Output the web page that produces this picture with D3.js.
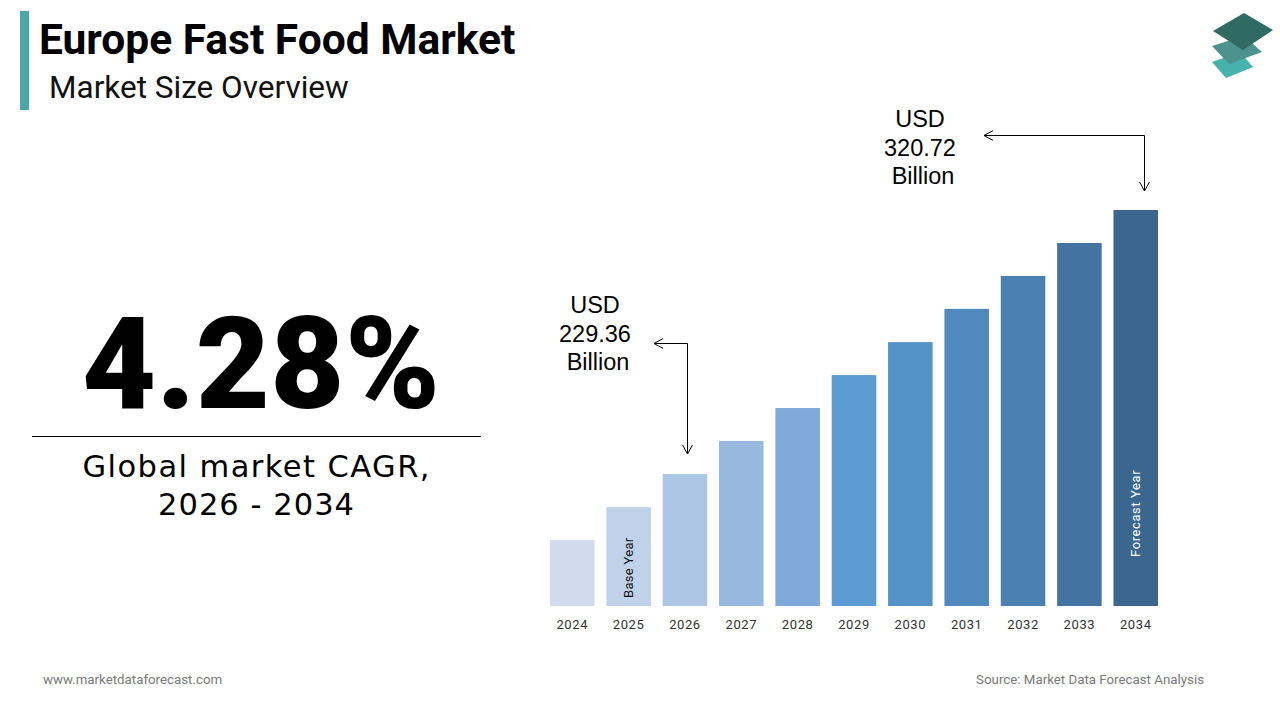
<!DOCTYPE html>
<html>
<head>
<meta charset="utf-8">
<script src="https://cdn.jsdelivr.net/npm/d3@7"></script>
<style>
  html, body { margin: 0; padding: 0; background: #fff; }
  svg { display: block; }
</style>
</head>
<body>
<svg id="chart" width="1280" height="720"></svg>
<script>
// ---- data ----
const years = ["2024","2025","2026","2027","2028","2029","2030","2031","2032","2033","2034"];
const values = [206.5, 217.9, 229.36, 240.8, 252.2, 263.6, 275.0, 286.5, 297.9, 309.3, 320.72];
const barLabels = ["", "Base Year", "", "", "", "", "", "", "", "", "Forecast Year"];
const cagrText = "4.28%";
const cagrCaption = ["Global market CAGR,", "2026 - 2034"];
const callouts = [
  { year: "2026", lines: ["USD", "229.36", "Billion"] },
  { year: "2034", lines: ["USD", "320.72", "Billion"] }
];

// ---- styles ----
const barColors = ["#d0dcee","#c0d2ea","#adc6e5","#97b9df","#7fa9d9","#5c9bd4","#5592c7","#4f89bd","#4a80b2","#4374a1","#3b678f"];

const svg = d3.select("#chart");

function fitWidth(sel, target) {
  const w = sel.node().getComputedTextLength();
  const n = sel.text().length;
  sel.attr("letter-spacing", (target - w) / Math.max(1, n - 1));
}

// Header
svg.append("rect").attr("x", 20).attr("y", 11).attr("width", 9).attr("height", 99).attr("fill", "#4aa9a8");
svg.append("text").attr("x", 39).attr("y", 54)
  .attr("font-family", "Roboto").attr("font-weight", 700).attr("font-size", 42.5).attr("fill", "#000")
  .text("Europe Fast Food Market");
svg.append("text").attr("x", 49).attr("y", 98)
  .attr("font-family", "Roboto").attr("font-weight", 400).attr("font-size", 31.5).attr("fill", "#111")
  .text("Market Size Overview");

// Logo
const logo = svg.append("g");
logo.append("polygon").attr("points", "1212,62 1240,52 1253,67 1226,78").attr("fill", "#45b2ab");
logo.append("polygon").attr("points", "1212,46 1244,36 1262,52 1229,64").attr("fill", "#4e928d");
logo.append("polygon").attr("points", "1213,31 1244,13 1273,30 1243,50").attr("fill", "#2f6a63");

// CAGR block
const big = svg.append("text").attr("x", 82).attr("y", 408)
  .attr("font-family", "Roboto").attr("font-weight", 900).attr("font-size", 128).attr("fill", "#000")
  .text(cagrText);
fitWidth(big, 358);

svg.append("line").attr("x1", 32).attr("x2", 481).attr("y1", 436.5).attr("y2", 436.5)
  .attr("stroke", "#000").attr("stroke-width", 1.2);
const capW = [347, 196];
cagrCaption.forEach((t, i) => {
  const tx = svg.append("text").attr("x", 256 - capW[i] / 2).attr("y", 477 + i * 38)
    .attr("font-family", "DejaVu Sans").attr("font-weight", 400).attr("font-size", 30.5).attr("fill", "#000")
    .text(t);
  fitWidth(tx, capW[i]);
});

// Chart scales
const x = d3.scaleBand().domain(years).range([550, 1158]).paddingInner(0.21).paddingOuter(0);
const y = d3.scaleLinear().domain([183.7, 320.72]).range([606, 210]);

const g = svg.append("g");
g.selectAll("rect.bar").data(years).join("rect")
  .attr("class", "bar")
  .attr("x", d => x(d))
  .attr("width", x.bandwidth())
  .attr("y", (d, i) => y(values[i]))
  .attr("height", (d, i) => y.range()[0] - y(values[i]))
  .attr("fill", (d, i) => barColors[i]);

// x axis labels
const xAxis = d3.axisBottom(x).tickSize(0).tickPadding(0);
const ax = svg.append("g").attr("transform", "translate(0,620)").call(xAxis);
ax.select(".domain").remove();
ax.selectAll("text").attr("font-family", "Roboto").attr("font-size", 13).attr("letter-spacing", 0.6)
  .attr("fill", "#333").attr("dy", "0.71em");

// in-bar labels
years.forEach((yr, i) => {
  if (!barLabels[i]) return;
  const cx = x(yr) + x.bandwidth() / 2;
  const isLast = i === years.length - 1;
  const by = isLast ? 557 : 598;
  svg.append("text")
    .attr("transform", `translate(${cx + 4.5},${by}) rotate(-90)`)
    .attr("font-family", "Roboto").attr("font-size", 13).attr("letter-spacing", isLast ? 0.6 : 0.3)
    .attr("fill", isLast ? "#fff" : "#111")
    .text(barLabels[i]);
});

// callouts
function arrowHead(x0, y0, dir) {
  const s = 7;
  let pts;
  if (dir === "left") pts = [[x0 + s + 2, y0 - s * 0.7], [x0, y0], [x0 + s + 2, y0 + s * 0.7]];
  else pts = [[x0 - s * 0.7, y0 - s - 2], [x0, y0], [x0 + s * 0.7, y0 - s - 2]];
  svg.append("path").attr("d", d3.line()(pts)).attr("fill", "none").attr("stroke", "#000").attr("stroke-width", 1);
}
const calloutGeom = [
  { tx: 595, ty: 313, hy: 343.5, hx0: 654, gap: 20 },
  { tx: 920, ty: 127, hy: 135.5, hx0: 984, gap: 19 }
];
callouts.forEach((c, k) => {
  const gm = calloutGeom[k];
  c.lines.forEach((t, i) => {
    svg.append("text").attr("x", gm.tx + (i === 2 ? 3 : 0)).attr("y", gm.ty + i * 28.5)
      .attr("text-anchor", "middle")
      .attr("font-family", "Liberation Sans").attr("font-size", 23.5).attr("fill", "#000")
      .text(t);
  });
  const i = years.indexOf(c.year);
  const vx = Math.round(x(c.year) + x.bandwidth() * (k === 0 ? 0.55 : 0.68)) + 0.5;
  const vy1 = y(values[i]) - gm.gap;
  svg.append("path")
    .attr("d", `M${gm.hx0},${gm.hy} H${vx} V${vy1}`)
    .attr("fill", "none").attr("stroke", "#000").attr("stroke-width", 1);
  arrowHead(gm.hx0, gm.hy, "left");
  arrowHead(vx, vy1, "down");
});

// footer
svg.append("text").attr("x", 43).attr("y", 684)
  .attr("font-family", "Roboto").attr("font-size", 13.3).attr("fill", "#7a7a7a")
  .text("www.marketdataforecast.com");
svg.append("text").attr("x", 1204).attr("y", 684).attr("text-anchor", "end")
  .attr("font-family", "Roboto").attr("font-size", 13.3).attr("fill", "#7a7a7a")
  .text("Source: Market Data Forecast Analysis");
</script>
</body>
</html>
